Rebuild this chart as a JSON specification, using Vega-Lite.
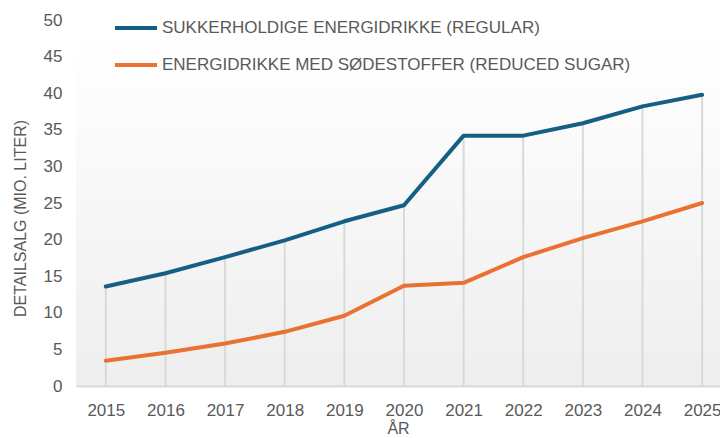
{
  "$schema": "https://vega.github.io/schema/vega-lite/v6.json",
  "autosize": {"type": "none"},
  "width": 644,
  "height": 366,
  "padding": {"left": 76, "top": 20, "right": 0, "bottom": 52},
  "background": "white",
  "config": {
    "font": "Liberation Sans",
    "view": {
      "stroke": null,
      "fill": {"gradient": "linear", "x1": 0, "y1": 0, "x2": 0, "y2": 1,
        "stops": [{"offset": 0, "color": "#ffffff"}, {"offset": 0.12, "color": "#fefefe"}, {"offset": 1, "color": "#eeeeee"}]}
    }
  },
  "data": {
    "values": [
      {"year": 2015, "series": "SUKKERHOLDIGE ENERGIDRIKKE (REGULAR)", "value": 13.6},
      {"year": 2016, "series": "SUKKERHOLDIGE ENERGIDRIKKE (REGULAR)", "value": 15.4},
      {"year": 2017, "series": "SUKKERHOLDIGE ENERGIDRIKKE (REGULAR)", "value": 17.6},
      {"year": 2018, "series": "SUKKERHOLDIGE ENERGIDRIKKE (REGULAR)", "value": 19.9},
      {"year": 2019, "series": "SUKKERHOLDIGE ENERGIDRIKKE (REGULAR)", "value": 22.5},
      {"year": 2020, "series": "SUKKERHOLDIGE ENERGIDRIKKE (REGULAR)", "value": 24.7},
      {"year": 2021, "series": "SUKKERHOLDIGE ENERGIDRIKKE (REGULAR)", "value": 34.2},
      {"year": 2022, "series": "SUKKERHOLDIGE ENERGIDRIKKE (REGULAR)", "value": 34.2},
      {"year": 2023, "series": "SUKKERHOLDIGE ENERGIDRIKKE (REGULAR)", "value": 35.9},
      {"year": 2024, "series": "SUKKERHOLDIGE ENERGIDRIKKE (REGULAR)", "value": 38.2},
      {"year": 2025, "series": "SUKKERHOLDIGE ENERGIDRIKKE (REGULAR)", "value": 39.8},
      {"year": 2015, "series": "ENERGIDRIKKE MED SØDESTOFFER (REDUCED SUGAR)", "value": 3.45},
      {"year": 2016, "series": "ENERGIDRIKKE MED SØDESTOFFER (REDUCED SUGAR)", "value": 4.55},
      {"year": 2017, "series": "ENERGIDRIKKE MED SØDESTOFFER (REDUCED SUGAR)", "value": 5.8},
      {"year": 2018, "series": "ENERGIDRIKKE MED SØDESTOFFER (REDUCED SUGAR)", "value": 7.4},
      {"year": 2019, "series": "ENERGIDRIKKE MED SØDESTOFFER (REDUCED SUGAR)", "value": 9.6},
      {"year": 2020, "series": "ENERGIDRIKKE MED SØDESTOFFER (REDUCED SUGAR)", "value": 13.7},
      {"year": 2021, "series": "ENERGIDRIKKE MED SØDESTOFFER (REDUCED SUGAR)", "value": 14.1},
      {"year": 2022, "series": "ENERGIDRIKKE MED SØDESTOFFER (REDUCED SUGAR)", "value": 17.6},
      {"year": 2023, "series": "ENERGIDRIKKE MED SØDESTOFFER (REDUCED SUGAR)", "value": 20.2},
      {"year": 2024, "series": "ENERGIDRIKKE MED SØDESTOFFER (REDUCED SUGAR)", "value": 22.5},
      {"year": 2025, "series": "ENERGIDRIKKE MED SØDESTOFFER (REDUCED SUGAR)", "value": 25.0}
    ]
  },
  "encoding": {
    "x": {
      "field": "year", "type": "quantitative",
      "scale": {"domain": [2014.5, 2025.3], "nice": false, "zero": false},
      "axis": {
        "values": [2015, 2016, 2017, 2018, 2019, 2020, 2021, 2022, 2023, 2024, 2025],
        "format": "d", "grid": false, "ticks": false,
        "domain": true, "domainColor": "#d9d9d9", "domainWidth": 2,
        "labelFont": "Liberation Sans", "labelFontSize": 17, "labelColor": "#595959", "labelPadding": 16,
        "labelFlush": false,
        "title": "ÅR", "titleFont": "Liberation Sans", "titleFontSize": 16, "titleFontWeight": "normal", "titleColor": "#595959", "titlePadding": 2
      }
    },
    "y": {
      "field": "value", "type": "quantitative",
      "scale": {"domain": [0, 50], "nice": false},
      "axis": {
        "values": [0, 5, 10, 15, 20, 25, 30, 35, 40, 45, 50],
        "grid": false, "ticks": false, "domain": false,
        "labelFont": "Liberation Sans", "labelFontSize": 17, "labelColor": "#595959", "labelPadding": 14,
        "title": "DETAILSALG (MIO. LITER)", "titleFont": "Liberation Sans", "titleFontSize": 16, "titleFontWeight": "normal", "titleColor": "#595959", "titlePadding": 15, "titleY": 198
      }
    }
  },
  "layer": [
    {
      "transform": [{"filter": "datum.series === 'SUKKERHOLDIGE ENERGIDRIKKE (REGULAR)'"}],
      "mark": {"type": "rule", "color": "#d9d9d9", "strokeWidth": 2},
      "encoding": {
        "y2": {"datum": 0}
      }
    },
    {
      "mark": {"type": "line", "strokeWidth": 4, "strokeCap": "round", "strokeJoin": "round"},
      "encoding": {
        "color": {
          "field": "series", "type": "nominal",
          "scale": {"domain": ["SUKKERHOLDIGE ENERGIDRIKKE (REGULAR)", "ENERGIDRIKKE MED SØDESTOFFER (REDUCED SUGAR)"], "range": ["#156082", "#E97132"]},
          "legend": {
            "orient": "none", "legendX": 37, "legendY": -15, "title": null,
            "symbolType": "stroke", "symbolStrokeWidth": 4, "symbolSize": 1764,
            "labelFont": "Liberation Sans", "labelFontSize": 17, "labelColor": "#595959", "labelOffset": 3,
            "rowPadding": 6, "labelLimit": 600
          }
        }
      }
    }
  ]
}
